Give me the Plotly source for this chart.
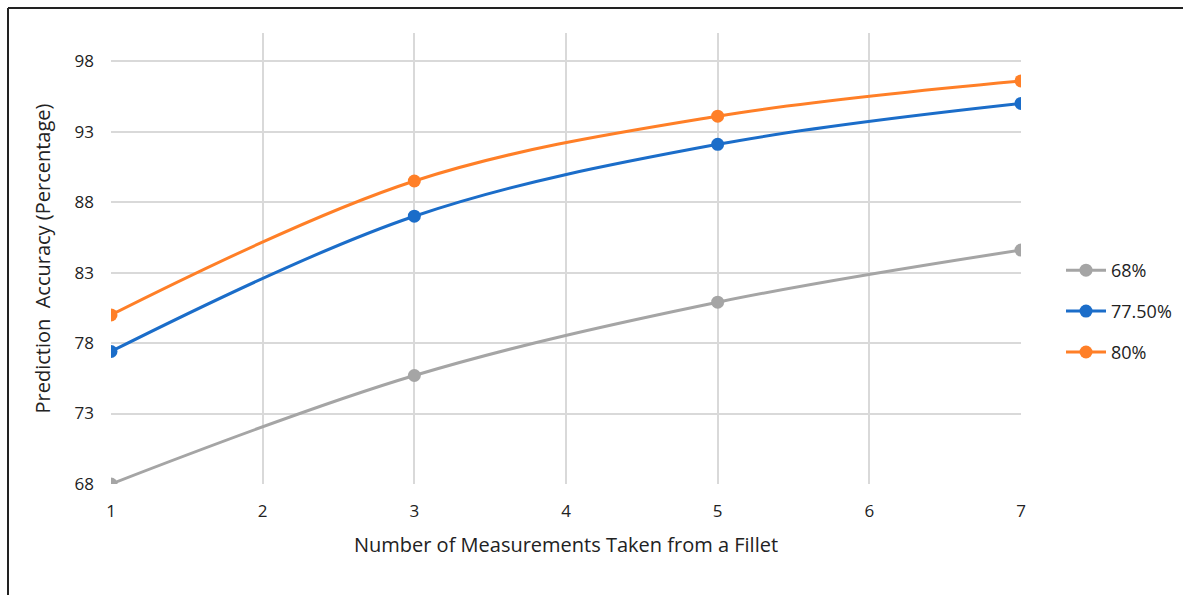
import plotly.graph_objects as go

x_vals = [1, 3, 5, 7]
s68 = [68.0, 75.7, 80.9, 84.6]
s775 = [77.4, 87.0, 92.1, 95.0]
s80 = [80.0, 89.5, 94.1, 96.6]
names = ["68%", "77.50%", "80%"]
colors = ["#A5A5A5", "#1B6DC9", "#FF7F27"]
y_ticks = [68, 73, 78, 83, 88, 93, 98]

FONT = "'Open Sans', sans-serif"

fig = go.Figure()
for name, vals, col in zip(names, [s68, s775, s80], colors):
    fig.add_trace(go.Scatter(
        x=x_vals, y=vals, name=name, mode="lines+markers", legendgroup=name,
        line=dict(color=col, width=3, shape="spline", smoothing=1),
        marker=dict(color=col, size=13),
    ))

W, H = 1183, 595
L, R, T, B = 111, 162, 33, 111
pw, ph = W - L - R, H - T - B

def px_x(p):
    return (p - L) / pw

def px_y(p):
    return (H - B - p) / ph

# outer frame: top and left edges visible
fig.add_shape(type="line", xref="paper", yref="paper",
              x0=px_x(8), x1=px_x(1200), y0=px_y(8), y1=px_y(8),
              line=dict(color="#222222", width=2), layer="above")
fig.add_shape(type="line", xref="paper", yref="paper",
              x0=px_x(8), x1=px_x(8), y0=px_y(8), y1=px_y(610),
              line=dict(color="#222222", width=2), layer="above")

fig.update_layout(
    width=W, height=H,
    margin=dict(l=L, r=R, t=T, b=B, autoexpand=False),
    paper_bgcolor="white", plot_bgcolor="white",
    font=dict(family=FONT, size=17, color="#222222"),
    showlegend=True,
    legend=dict(x=px_x(1061), y=px_y(252), xanchor="left", yanchor="top",
                font=dict(size=18, color="#222222"), itemwidth=40,
                tracegroupgap=14.5, bgcolor="rgba(0,0,0,0)"),
    xaxis=dict(range=[1, 7], tickvals=[1, 2, 3, 4, 5, 6, 7], showgrid=True,
               gridcolor="#D9D9D9", gridwidth=2, zeroline=False, showline=False,
               ticks="", ticklabelstandoff=15,
               title=dict(text="Number of Measurements Taken from a Fillet",
                          font=dict(size=20), standoff=16)),
    yaxis=dict(range=[68, 100], tickvals=y_ticks, showgrid=True,
               gridcolor="#D9D9D9", gridwidth=2, zeroline=False, showline=False,
               ticks="", ticklabelstandoff=16,
               title=dict(text="Prediction  Accuracy (Percentage)",
                          font=dict(size=20), standoff=18)),
)

fig.write_html("out.html")
